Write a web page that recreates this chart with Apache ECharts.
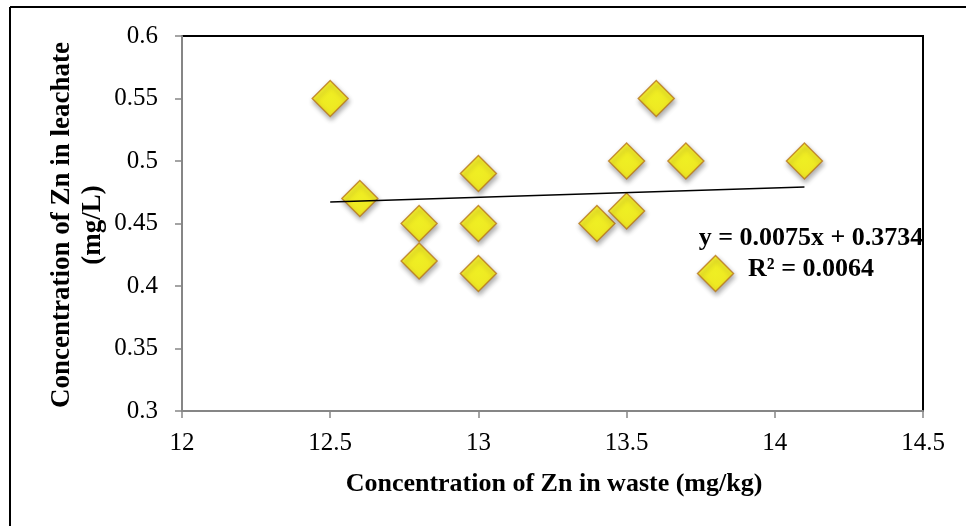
<!DOCTYPE html>
<html>
<head>
<meta charset="utf-8">
<script src="https://cdn.jsdelivr.net/npm/echarts@6/dist/echarts.min.js"></script>
<style>
  html, body { margin: 0; padding: 0; background: #fff; }
  #chart { width: 966px; height: 526px; }
</style>
</head>
<body>
<div id="chart"></div>
<script>
// Zn in waste (mg/kg) vs Zn in leachate (mg/L)
const znWaste    = [12.5, 12.6, 12.8, 12.8, 13.0, 13.0, 13.0, 13.4, 13.5, 13.5, 13.6, 13.7, 13.8, 14.1];
const znLeachate = [0.55, 0.47, 0.45, 0.42, 0.49, 0.45, 0.41, 0.45, 0.46, 0.50, 0.55, 0.50, 0.41, 0.50];

// Linear trendline as reported
const trendSlope = 0.0075;
const trendIntercept = 0.3734;
const trendR2 = 0.0064;

const xTicks = [12, 12.5, 13, 13.5, 14, 14.5];
const yTicks = [0.3, 0.35, 0.4, 0.45, 0.5, 0.55, 0.6];

const xTitle = 'Concentration of Zn in waste (mg/kg)';
const yTitle = ['Concentration of Zn in leachate', '(mg/L)'];

const points = znWaste.map((x, i) => [x, znLeachate[i]]);
const xMinData = Math.min(...znWaste);
const xMaxData = Math.max(...znWaste);
const trend = [xMinData, xMaxData].map(x => [x, trendSlope * x + trendIntercept]);

const serif = '"Liberation Serif", "Times New Roman", serif';

const chart = echarts.init(document.getElementById('chart'), null, { renderer: 'canvas' });
chart.setOption({
  animation: false,
  backgroundColor: '#fff',
  grid: {
    left: 182, top: 36, right: 43, bottom: 115,
    show: true, borderColor: '#000', borderWidth: 2, backgroundColor: 'transparent'
  },
  xAxis: {
    type: 'value',
    min: xTicks[0], max: xTicks[xTicks.length - 1], interval: 0.5,
    axisLine: { show: true, lineStyle: { color: '#868686', width: 2 } },
    axisTick: { show: true, length: 7, lineStyle: { color: '#868686', width: 1.5 } },
    splitLine: { show: false },
    axisLabel: {
      margin: 20, color: '#000', fontFamily: serif, fontSize: 25,
      formatter: v => String(v)
    }
  },
  yAxis: {
    type: 'value',
    min: yTicks[0], max: yTicks[yTicks.length - 1], interval: 0.05,
    axisLine: { show: true, lineStyle: { color: '#868686', width: 2 } },
    axisTick: { show: true, length: 7, lineStyle: { color: '#868686', width: 1.5 } },
    splitLine: { show: false },
    axisLabel: {
      margin: 24, color: '#000', fontFamily: serif, fontSize: 25,
      formatter: v => String(Math.round(v * 100) / 100)
    }
  },
  series: [
    {
      type: 'scatter',
      data: points,
      symbol: 'diamond',
      symbolSize: [36, 36],
      z: 2,
      itemStyle: {
        color: new echarts.graphic.RadialGradient(0.5, 0.5, 0.7, [
          { offset: 0, color: '#FFFF00' },
          { offset: 1, color: '#FFEE00' }
        ]),
        borderColor: '#B8761A',
        borderWidth: 1.4,
        shadowColor: 'rgba(0,0,0,0.4)',
        shadowBlur: 5,
        shadowOffsetX: 1,
        shadowOffsetY: 3
      }
    },
    {
      type: 'line',
      data: trend,
      symbol: 'none',
      z: 3,
      lineStyle: { color: '#000', width: 1.5 },
      silent: true
    }
  ],
  graphic: [
    // outer frame edges
    { type: 'line', shape: { x1: 10, y1: 7, x2: 966, y2: 7 }, style: { stroke: '#000', lineWidth: 2 } },
    { type: 'line', shape: { x1: 10, y1: 7, x2: 10, y2: 526 }, style: { stroke: '#000', lineWidth: 2 } },
    // axis titles
    {
      type: 'text', x: 554, y: 484,
      style: { text: xTitle, font: 'bold 26px ' + serif, fill: '#000', align: 'center', verticalAlign: 'middle' }
    },
    {
      type: 'text', x: 62, y: 225, rotation: Math.PI / 2,
      style: { text: yTitle[0], font: 'bold 27px ' + serif, fill: '#000', align: 'center', verticalAlign: 'middle' }
    },
    {
      type: 'text', x: 93, y: 225, rotation: Math.PI / 2,
      style: { text: yTitle[1], font: 'bold 27px ' + serif, fill: '#000', align: 'center', verticalAlign: 'middle' }
    },
    // trendline equation
    {
      type: 'text', x: 811, y: 238, z: 10,
      style: {
        text: 'y = ' + trendSlope + 'x + ' + trendIntercept,
        font: 'bold 26px ' + serif, fill: '#000', align: 'center', verticalAlign: 'middle'
      }
    },
    {
      type: 'text', x: 811, y: 269, z: 10,
      style: {
        text: 'R² = ' + trendR2,
        font: 'bold 26px ' + serif, fill: '#000', align: 'center', verticalAlign: 'middle'
      }
    }
  ]
});
</script>
</body>
</html>
